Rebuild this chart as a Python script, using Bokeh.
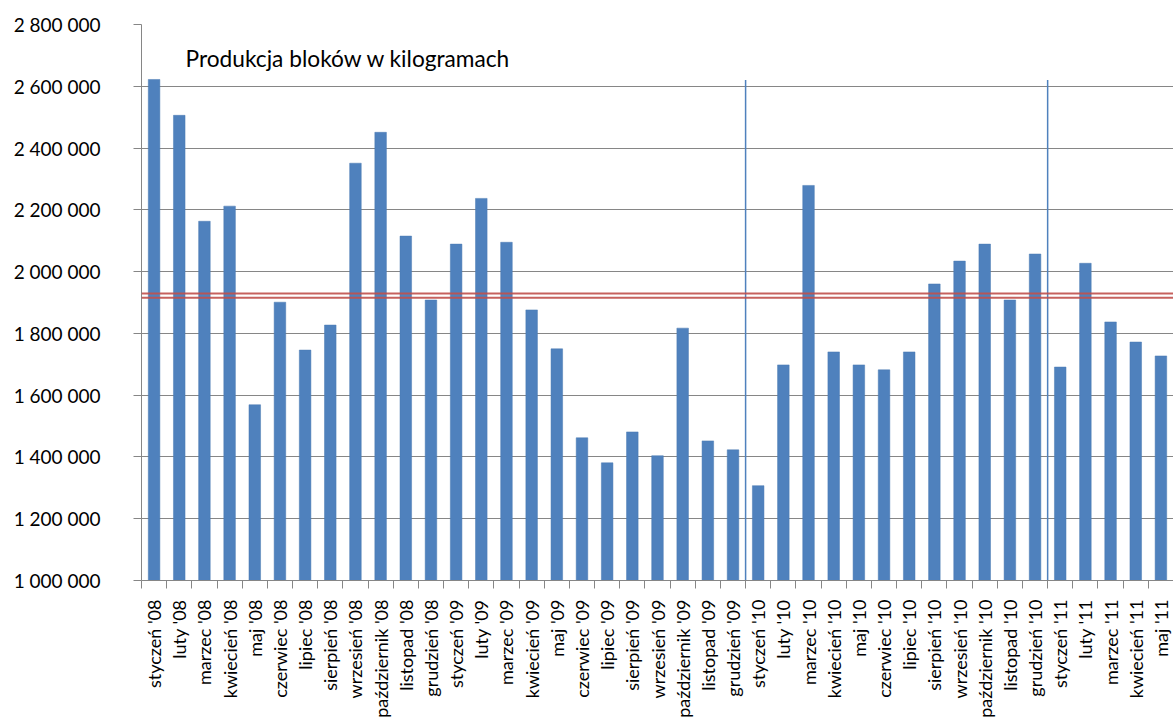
import math
from bokeh.plotting import figure
from bokeh.models import Range1d, FixedTicker, Span, Label, ColumnDataSource
from bokeh.embed import file_html
from bokeh.resources import INLINE

months = ["styczeń", "luty", "marzec", "kwiecień", "maj", "czerwiec", "lipiec",
          "sierpień", "wrzesień", "październik", "listopad", "grudzień"]
periods = ([f"{m} '08" for m in months] + [f"{m} '09" for m in months] +
           [f"{m} '10" for m in months] + [f"{m} '11" for m in months[:5]])

production = [2622000, 2506000, 2163000, 2212000, 1569000, 1901000, 1746000, 1827000,
              2351000, 2451000, 2115000, 1908000,
              2089000, 2237000, 2095000, 1876000, 1750000, 1462000, 1381000, 1481000,
              1404000, 1817000, 1452000, 1423000,
              1307000, 1698000, 2279000, 1740000, 1698000, 1682000, 1740000, 1960000,
              2034000, 2089000, 1908000, 2057000,
              1691000, 2027000, 1837000, 1772000, 1727000]

reference_levels = [1929000, 1915000]
year_breaks = [24, 36]          # index of first month of 2010 and 2011
separator_top = 2620000         # top of the year separator lines
y_ticks = list(range(1000000, 2800001, 200000))
title_text = "Produkcja bloków w kilogramach"

FONT = "Lato"
GREY = "#868686"

n = len(periods)
centers = [i + 0.5 for i in range(n)]

p = figure(width=1173, height=720, output_backend="svg", toolbar_location=None,
           x_range=Range1d(0, n), y_range=Range1d(y_ticks[0], y_ticks[-1]),
           min_border_left=141, min_border_right=0, min_border_top=24)
p.outline_line_color = None
p.background_fill_color = "white"
p.border_fill_color = "white"

src = ColumnDataSource(dict(x=centers, top=production, label=periods))
p.vbar(x="x", top="top", bottom=y_ticks[0], width=0.46, source=src,
       fill_color="#4f81bd", line_color="#4a7ab3", line_width=0.5)

# year separators
p.segment(x0=year_breaks, x1=year_breaks, y0=[y_ticks[0]] * len(year_breaks),
          y1=[separator_top] * len(year_breaks), line_color="#4f81bd", line_width=1.5)

# x axis
xa = p.xaxis[0]
xa.ticker = FixedTicker(ticks=centers, minor_ticks=list(range(n + 1)))
xa.major_label_overrides = {c: lab for c, lab in zip(centers, periods)}
xa.major_label_orientation = math.pi / 2
xa.major_tick_line_color = None
xa.minor_tick_line_color = GREY
xa.minor_tick_in = 0
xa.minor_tick_out = 8
xa.major_label_standoff = 11
xa.axis_line_color = GREY
xa.major_label_text_font = FONT
xa.major_label_text_font_size = "18px"
xa.major_label_text_color = "#000000"

# y axis
ya = p.yaxis[0]
ya.ticker = FixedTicker(ticks=y_ticks)
ya.major_label_overrides = {v: f"{v:,}".replace(",", " ") for v in y_ticks}
ya.major_tick_in = 0
ya.major_tick_out = 8
ya.minor_tick_line_color = None
ya.major_tick_line_color = GREY
ya.axis_line_color = GREY
ya.major_label_standoff = 33
ya.major_label_text_font = FONT
ya.major_label_text_font_size = "19px"
ya.major_label_text_color = "#000000"

p.xgrid.grid_line_color = None
p.ygrid.ticker = FixedTicker(ticks=y_ticks)
p.ygrid.grid_line_color = GREY
p.ygrid.grid_line_width = 1

for lvl in reference_levels:
    p.add_layout(Span(location=lvl, dimension="width", line_color="#c0504d",
                      line_width=2, line_alpha=0.9))

p.add_layout(Label(x=1.75, y=2690000, text=title_text, text_font=FONT,
                   text_font_size="22.7px", text_color="#000000",
                   text_baseline="middle"))

open("out.html", "w").write(file_html(p, INLINE))
